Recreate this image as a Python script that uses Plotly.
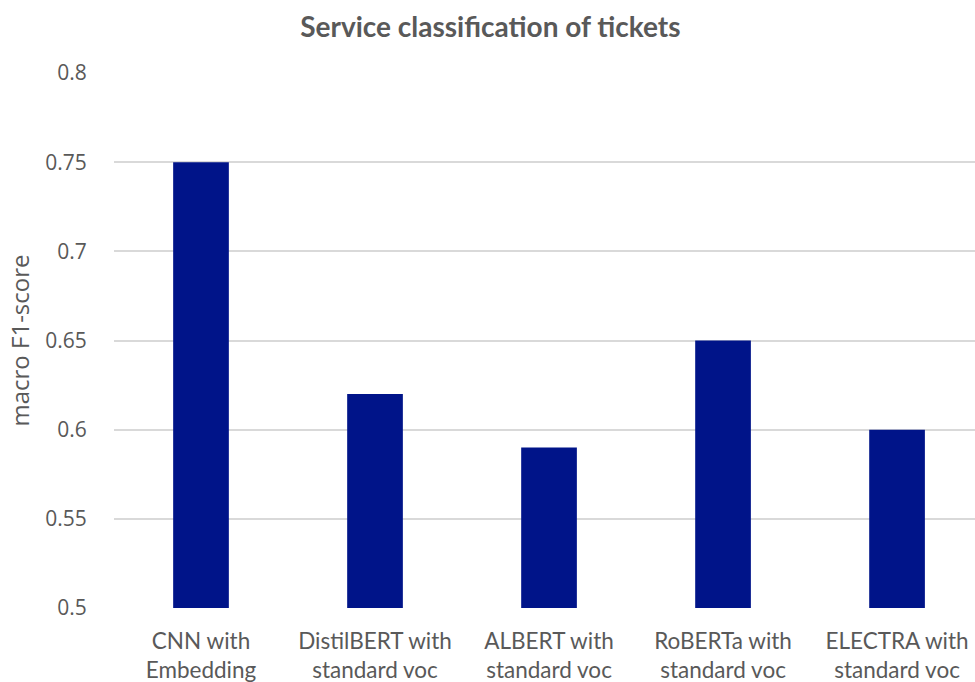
import plotly.graph_objects as go

categories = ["CNN with<br>Embedding", "DistilBERT with<br>standard voc", "ALBERT with<br>standard voc",
              "RoBERTa with<br>standard voc", "ELECTRA with<br>standard voc"]
scores = [0.75, 0.62, 0.59, 0.65, 0.60]
y_ticks = [0.5, 0.55, 0.6, 0.65, 0.7, 0.75, 0.8]
y_tick_labels = ["0.5", "0.55", "0.6", "0.65", "0.7", "0.75", "0.8"]

gray = "#595959"
fig = go.Figure(go.Bar(x=list(range(len(categories))), y=scores, marker_color="#001489",
                       width=0.32, marker_line_width=0))

fig.update_layout(
    width=975, height=682,
    margin=dict(l=114, r=0, t=73, b=74),
    plot_bgcolor="white", paper_bgcolor="white",
    showlegend=False,
    title=dict(text="<b>Service classification of tickets</b>", x=0.503, xref="container",
               xanchor="center", y=1 - 27 / 682, yref="container", yanchor="middle",
               font=dict(family="Lato", size=28, color=gray)),
    font=dict(family="Lato", color=gray),
)
fig.update_xaxes(
    tickmode="array", tickvals=list(range(len(categories))), ticktext=categories,
    range=[-0.5, 4.448], showgrid=False, zeroline=False, showline=False,
    ticks="outside", ticklen=13, tickcolor="rgba(0,0,0,0)",
    tickfont=dict(family="Lato", size=22.5, color=gray),
)
fig.update_yaxes(
    range=[0.5, 0.8], tickmode="array", tickvals=y_ticks, ticktext=y_tick_labels,
    showgrid=True, gridcolor="#D9D9D9", gridwidth=1.5, zeroline=False, showline=False,
    ticks="outside", ticklen=22, tickcolor="rgba(0,0,0,0)",
    tickfont=dict(family="Open Sans", size=21, color=gray),
    title=dict(text="macro F1-score", font=dict(family="Open Sans", size=24, color=gray), standoff=8),
)
fig.write_html("out.html")
